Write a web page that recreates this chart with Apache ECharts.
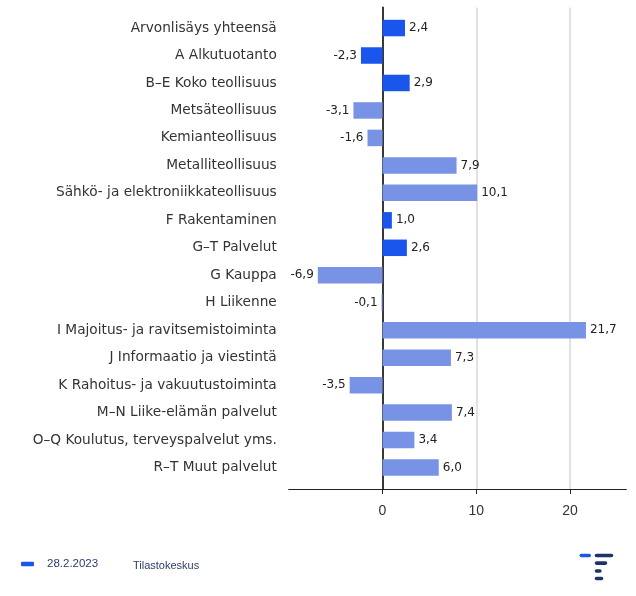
<!DOCTYPE html>
<html>
<head>
<meta charset="utf-8">
<script src="https://cdn.jsdelivr.net/npm/echarts@6/dist/echarts.min.js"></script>
<style>
  html, body { margin: 0; padding: 0; background: #fff; }
  #main { width: 636px; height: 596px; }
</style>
</head>
<body>
<div id="main"></div>
<script>
var categories = [
    'Arvonlisäys yhteensä',
    'A Alkutuotanto',
    'B–E Koko teollisuus',
    'Metsäteollisuus',
    'Kemianteollisuus',
    'Metalliteollisuus',
    'Sähkö- ja elektroniikkateollisuus',
    'F Rakentaminen',
    'G–T Palvelut',
    'G Kauppa',
    'H Liikenne',
    'I Majoitus- ja ravitsemistoiminta',
    'J Informaatio ja viestintä',
    'K Rahoitus- ja vakuutustoiminta',
    'M–N Liike-elämän palvelut',
    'O–Q Koulutus, terveyspalvelut yms.',
    'R–T Muut palvelut'
];
var values = [2.4, -2.3, 2.9, -3.1, -1.6, 7.9, 10.1, 1.0, 2.6, -6.9, -0.1, 21.7, 7.3, -3.5, 7.4, 3.4, 6.0];
// true = main aggregate (dark blue), false = sub-industry (light blue)
var mainLevel = [true, true, true, false, false, false, false, true, true, false, false, false, false, false, false, false, false];
var xTicks = [0, 10, 20];
var seriesName = '28.2.2023';
var source = 'Tilastokeskus';

var dark = '#1a56ec';
var light = '#7892e6';
var navy = '#1f3366';

var myChart = echarts.init(document.getElementById('main'));

var barData = values.map(function (v, i) {
    return {
        value: v,
        itemStyle: { color: mainLevel[i] ? dark : light },
        label: { position: v < 0 ? 'left' : 'right' }
    };
});

var axisLeft = 288.75, axisWidth = 337.5;

myChart.setOption({
    animation: false,
    title: {
        text: source,
        left: 128, top: 555,
        textStyle: { fontFamily: 'Liberation Sans', fontSize: 11, fontWeight: 'normal', color: '#2e3c6b' }
    },
    legend: {
        left: 16, top: 553,
        itemWidth: 13, itemHeight: 4.5,
        icon: 'roundRect',
        textStyle: { fontFamily: 'Liberation Sans', fontSize: 11.5, color: '#2e3c6b', padding: [0, 0, 0, 8] },
        data: [seriesName]
    },
    grid: [
        { left: axisLeft, width: axisWidth, top: 14.3, height: 467 },
        { left: axisLeft, width: axisWidth, top: 7.5, height: 481.5 }
    ],
    xAxis: [
        { gridIndex: 0, type: 'value', min: -10, max: 26, interval: 10, show: false },
        {
            gridIndex: 1, type: 'value', min: -10, max: 26, interval: 10,
            axisLine: { show: true, onZero: false, lineStyle: { color: '#222', width: 1.2 } },
            axisTick: { show: true, length: 5, customValues: xTicks, lineStyle: { color: '#222' } },
            axisLabel: {
                customValues: xTicks, margin: 15,
                fontFamily: 'Liberation Sans', fontSize: 14, color: '#333'
            },
            splitLine: {
                show: true, showMinLine: false, showMaxLine: true,
                lineStyle: { color: '#d9d9d9', width: 1.5 }
            }
        }
    ],
    yAxis: [
        {
            gridIndex: 0, type: 'category', inverse: true, data: categories,
            axisLine: { show: false }, axisTick: { show: false },
            axisLabel: { margin: 12, fontFamily: 'DejaVu Sans', fontSize: 13.7, color: '#333' }
        },
        {
            gridIndex: 1, type: 'value', min: 0, max: 1,
            axisLine: { show: true, onZero: true, lineStyle: { color: '#222', width: 1.8 } },
            axisTick: { show: false }, axisLabel: { show: false }, splitLine: { show: false }
        }
    ],
    graphic: [
        { type: 'rect', shape: { x: 579.5, y: 553.7, width: 11.5, height: 3.6, r: 1.8 }, style: { fill: dark } },
        { type: 'rect', shape: { x: 594.7, y: 553.7, width: 18.6, height: 3.6, r: 1.8 }, style: { fill: navy } },
        { type: 'rect', shape: { x: 594.7, y: 561.3, width: 12.6, height: 3.6, r: 1.8 }, style: { fill: navy } },
        { type: 'rect', shape: { x: 594.7, y: 569.2, width: 7, height: 3.6, r: 1.8 }, style: { fill: navy } },
        { type: 'rect', shape: { x: 594.7, y: 576.7, width: 8.6, height: 3.6, r: 1.8 }, style: { fill: navy } }
    ],
    series: [{
        name: seriesName,
        type: 'bar',
        xAxisIndex: 0, yAxisIndex: 0,
        barWidth: 16.5,
        itemStyle: { color: dark },
        label: {
            show: true, distance: 4,
            fontFamily: 'DejaVu Sans', fontSize: 12, color: '#222',
            formatter: function (p) { return p.value.toFixed(1).replace('.', ','); }
        },
        data: barData
    }]
});
</script>
</body>
</html>
